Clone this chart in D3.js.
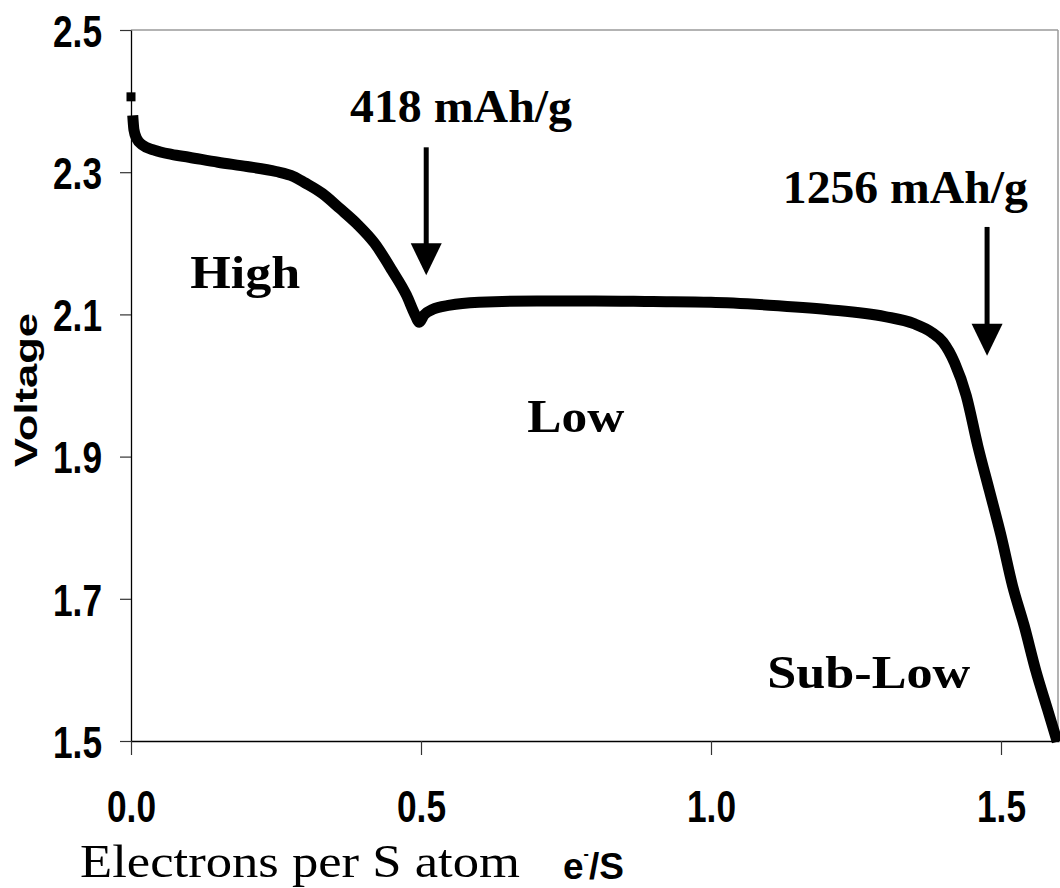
<!DOCTYPE html>
<html>
<head>
<meta charset="utf-8">
<script src="https://cdn.jsdelivr.net/npm/d3@7/dist/d3.min.js"></script>
<style>
  html, body { margin: 0; padding: 0; background: #fff; }
  svg { display: block; }
</style>
</head>
<body>
<svg id="chart" width="1060" height="888"></svg>
<script>
// Discharge curve: electrons transferred per sulfur atom vs. cell voltage
const electrons = [
  0.000, 0.003, 0.005, 0.010, 0.020, 0.040, 0.070, 0.100, 0.150, 0.200,
  0.250, 0.280, 0.300, 0.330, 0.360, 0.390, 0.420, 0.450, 0.475, 0.490,
  0.497, 0.505, 0.520, 0.550, 0.600, 0.700, 0.800, 0.900, 1.000, 1.100,
  1.200, 1.300, 1.350, 1.380, 1.400, 1.420, 1.440, 1.460, 1.480, 1.500,
  1.520, 1.540, 1.560, 1.580, 1.597
];
const voltage = [
  2.406, 2.380, 2.360, 2.347, 2.338, 2.331, 2.325, 2.321, 2.314, 2.308,
  2.301, 2.294, 2.285, 2.270, 2.249, 2.227, 2.200, 2.162, 2.127, 2.099,
  2.089, 2.099, 2.107, 2.113, 2.117, 2.119, 2.119, 2.118, 2.117, 2.113,
  2.107, 2.097, 2.087, 2.075, 2.061, 2.032, 1.986, 1.915, 1.852, 1.789,
  1.718, 1.662, 1.599, 1.545, 1.499
];

const xTicks = [0, 0.5, 1.0, 1.5];
const xTickLabels = ["0.0", "0.5", "1.0", "1.5"];
const yTicks = [1.5, 1.7, 1.9, 2.1, 2.3, 2.5];
const yTickLabels = ["1.5", "1.7", "1.9", "2.1", "2.3", "2.5"];

// Capacity markers (arrow x, arrow top, arrow tip) and their captions
const arrowNames = ["418 mAh/g", "1256 mAh/g"];
const arrowX = [0.509, 1.476];
const arrowTop = [2.335, 2.223];
const arrowTip = [2.155, 2.042];
const arrowLabelX = [0.569, 1.335];
const arrowLabelY = [2.370, 2.256];

// Plateau region names
const regionNames = ["High", "Low", "Sub-Low"];
const regionX = [0.197, 0.767, 1.272];
const regionY = [2.137, 1.935, 1.575];

const svg = d3.select("#chart");
const plotLeft = 131, plotRight = 1059, plotTop = 30, plotBottom = 741;

const x = d3.scaleLinear().domain([0, 1.6]).range([plotLeft, plotRight]);
const y = d3.scaleLinear().domain([1.5, 2.5]).range([plotBottom, plotTop]);

const SANS = "'Liberation Sans', Arial, sans-serif";
const SERIF = "'Liberation Serif', 'Times New Roman', serif";

// Plot frame: top and right edges
svg.append("line")
  .attr("x1", plotLeft).attr("x2", x(1.6) - 1).attr("y1", plotTop).attr("y2", plotTop)
  .attr("stroke", "#9a9a9a").attr("stroke-width", 1.5);
svg.append("line")
  .attr("x1", x(1.6) - 1).attr("x2", x(1.6) - 1).attr("y1", plotTop).attr("y2", plotBottom)
  .attr("stroke", "#9a9a9a").attr("stroke-width", 1.5);

// Y axis
const yAxis = svg.append("g")
  .attr("transform", `translate(${plotLeft},0)`)
  .call(d3.axisLeft(y).tickValues(yTicks)
    .tickFormat((d, i) => yTickLabels[i])
    .tickSize(11).tickSizeOuter(0).tickPadding(18));
yAxis.select(".domain").attr("stroke", "#000").attr("stroke-width", 1.3);
yAxis.selectAll(".tick line").attr("stroke", "#333").attr("stroke-width", 1.2);
yAxis.selectAll(".tick text")
  .attr("fill", "#000")
  .style("font-family", SANS).style("font-weight", "bold").style("font-size", "45px")
  .attr("dy", "0.36em")
  .attr("textLength", 49).attr("lengthAdjust", "spacingAndGlyphs");

// X axis
const xAxis = svg.append("g")
  .attr("transform", `translate(0,${plotBottom})`)
  .call(d3.axisBottom(x).tickValues(xTicks)
    .tickFormat((d, i) => xTickLabels[i])
    .tickSize(14).tickSizeOuter(0));
xAxis.select(".domain").attr("stroke", "#000").attr("stroke-width", 1.3);
xAxis.selectAll(".tick line").attr("stroke", "#333").attr("stroke-width", 1.2);
xAxis.selectAll(".tick text")
  .attr("fill", "#000")
  .attr("y", 81).attr("dy", null)
  .style("font-family", SANS).style("font-weight", "bold").style("font-size", "45px")
  .attr("textLength", 49).attr("lengthAdjust", "spacingAndGlyphs");

// Axis titles
svg.append("text")
  .attr("transform", "translate(37,390) rotate(-90)")
  .attr("text-anchor", "middle")
  .style("font-family", SANS).style("font-weight", "bold").style("font-size", "31px")
  .attr("textLength", 154).attr("lengthAdjust", "spacingAndGlyphs")
  .text("Voltage");

svg.append("text")
  .attr("x", 80).attr("y", 877)
  .style("font-family", SERIF).style("font-size", "46px")
  .attr("textLength", 440).attr("lengthAdjust", "spacingAndGlyphs")
  .text("Electrons per S atom");

// Unit: e⁻/S with a small raised minus sign
const unit = svg.append("text")
  .attr("x", 563).attr("y", 879)
  .style("font-family", SANS).style("font-weight", "bold").style("font-size", "37px");
unit.append("tspan").text("e");
unit.append("tspan").attr("dy", -20).style("font-size", "16px").text("-");
unit.append("tspan").attr("dy", 20).text("/S");

// Discharge curve
const pts = electrons.map((e, i) => [e, voltage[i]]);
const line = d3.line()
  .x(d => x(d[0])).y(d => y(d[1]))
  .curve(d3.curveMonotoneX);

svg.append("path")
  .datum(pts.slice(1))
  .attr("d", line)
  .attr("fill", "none")
  .attr("stroke", "#000")
  .attr("stroke-width", 11)
  .attr("stroke-linejoin", "round");

// First recorded point (open-circuit voltage) drawn as a marker
svg.append("rect")
  .attr("x", x(pts[0][0]) - 4.5).attr("y", y(pts[0][1]) - 4.5)
  .attr("width", 9).attr("height", 9)
  .attr("fill", "#000");

// Capacity arrows
const arrowLabelWidth = [222, 245];
arrowNames.forEach((name, i) => {
  const ax = x(arrowX[i]);
  const tipY = y(arrowTip[i]);
  const headLen = 32, headHalf = 15.5;
  svg.append("line")
    .attr("x1", ax).attr("x2", ax)
    .attr("y1", y(arrowTop[i])).attr("y2", tipY - headLen + 2)
    .attr("stroke", "#000").attr("stroke-width", 5);
  svg.append("path")
    .attr("d", `M${ax - headHalf},${tipY - headLen} L${ax + headHalf},${tipY - headLen} L${ax},${tipY} Z`)
    .attr("fill", "#000");
  svg.append("text")
    .attr("x", x(arrowLabelX[i]) - arrowLabelWidth[i] / 2).attr("y", y(arrowLabelY[i]))
    .style("font-family", SERIF).style("font-weight", "bold").style("font-size", "47px")
    .attr("textLength", arrowLabelWidth[i]).attr("lengthAdjust", "spacingAndGlyphs")
    .text(name);
});

// Region labels
const regionLabelWidth = [110, 97, 203];
regionNames.forEach((name, i) => {
  svg.append("text")
    .attr("x", x(regionX[i]) - regionLabelWidth[i] / 2).attr("y", y(regionY[i]))
    .style("font-family", SERIF).style("font-weight", "bold").style("font-size", "47px")
    .attr("textLength", regionLabelWidth[i]).attr("lengthAdjust", "spacingAndGlyphs")
    .text(name);
});
</script>
</body>
</html>
